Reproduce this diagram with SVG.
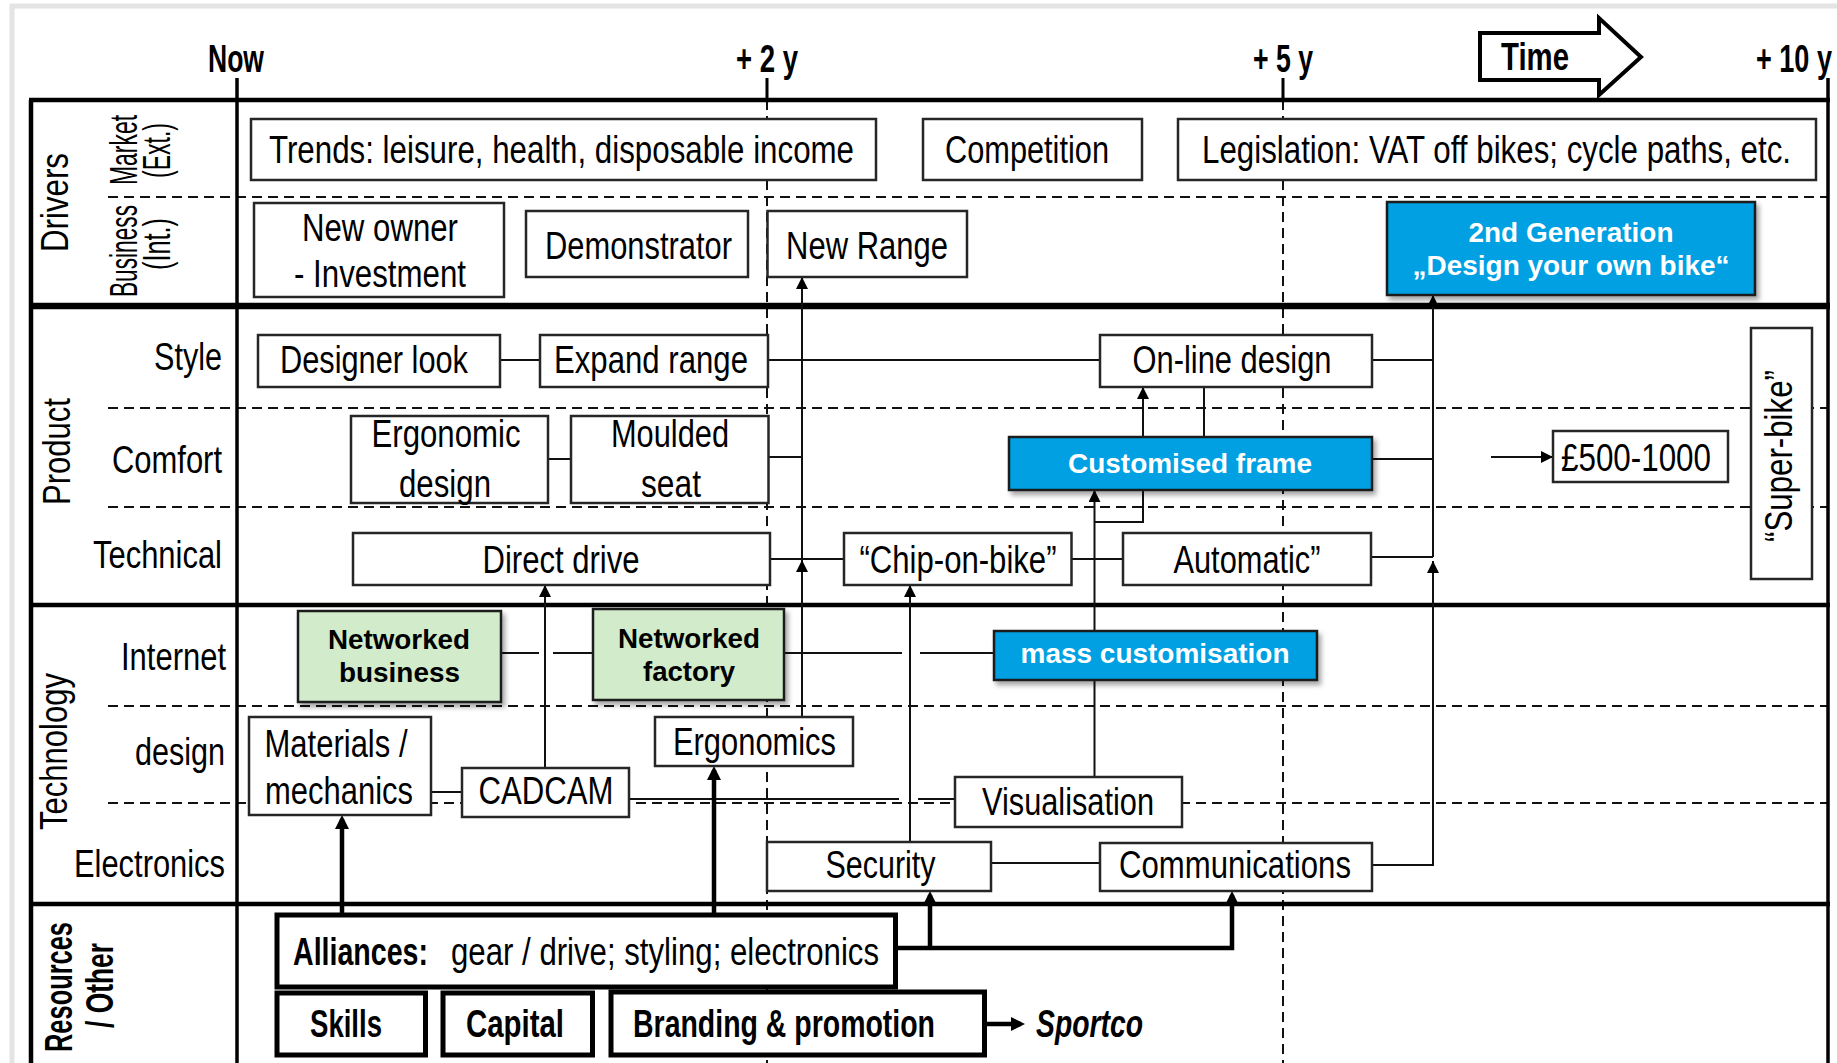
<svg xmlns="http://www.w3.org/2000/svg" width="1837" height="1063" viewBox="0 0 1837 1063">
<style>
.t{font-family:"Liberation Sans Narrow","Liberation Sans",Arial,sans-serif;font-size:38px;fill:#000}
.b{font-weight:bold}
.w{font-family:"Liberation Sans",Arial,sans-serif;font-weight:bold;font-size:28px;fill:#fff}
.k{font-family:"Liberation Sans",Arial,sans-serif;font-weight:bold;font-size:28px;fill:#000}
.box{fill:#fff;stroke:#262626;stroke-width:2.5}
.thick{fill:#fff;stroke:#000;stroke-width:5}
.blue{fill:#00A0E3;stroke:#1a1a1a;stroke-width:2.5;filter:url(#sh)}
.green{fill:#D1EBCB;stroke:#1a1a1a;stroke-width:2.5;filter:url(#sh)}
.c{fill:none;stroke:#111;stroke-width:2}
.ct{fill:none;stroke:#000;stroke-width:4.5}
.sec{stroke:#000;stroke-width:4.5;fill:none}
.dash{stroke:#111;stroke-width:2;stroke-dasharray:10 6;fill:none}
.m{text-anchor:middle}
.e{text-anchor:end}
</style>
<defs>
<filter id="sh" x="-10%" y="-10%" width="130%" height="140%"><feDropShadow dx="3" dy="4" stdDeviation="2.5" flood-color="#000" flood-opacity="0.35"/></filter>
<marker id="a" viewBox="0 0 12 12" refX="12" refY="6" markerWidth="12" markerHeight="12" markerUnits="userSpaceOnUse" orient="auto"><path d="M0,0 L12,6 L0,12 z" fill="#000"/></marker>
<marker id="A" viewBox="0 0 14 14" refX="10" refY="7" markerWidth="14" markerHeight="14" markerUnits="userSpaceOnUse" orient="auto"><path d="M0,0 L14,7 L0,14 z" fill="#000"/></marker>
</defs>
<rect width="1837" height="1063" fill="#fff"/>
<path d="M12,1063 V6 H1837" stroke="#e4e4e4" stroke-width="5" fill="none"/>

<g id="grid">
<path class="dash" d="M108,197 H1828 M108,408 H1828 M108,507 H1828 M108,706 H1828 M108,803 H1828"/>
<path class="dash" d="M767,100 V1063 M1283,100 V1063"/>
<path d="M767,78 V100 M1283,78 V100" stroke="#000" stroke-width="3"/>
<path class="sec" d="M29,100 H1830 M29,605 H1830 M29,904 H1830 M31,100 V1063"/>
<path d="M29,306 H1830" stroke="#000" stroke-width="6.5"/>
<path d="M237,78 V1063" stroke="#000" stroke-width="3.5"/>
<path d="M1828,78 V1063" stroke="#000" stroke-width="3.5"/>
</g>

<g id="timeline">
<text class="t b m" x="236" y="72" font-size="33" textLength="56" lengthAdjust="spacingAndGlyphs">Now</text>
<text class="t b m" x="767" y="72" font-size="33" textLength="62" lengthAdjust="spacingAndGlyphs">+ 2 y</text>
<text class="t b m" x="1283" y="72" font-size="33" textLength="60" lengthAdjust="spacingAndGlyphs">+ 5 y</text>
<text class="t b m" x="1794" y="72" font-size="33" textLength="76" lengthAdjust="spacingAndGlyphs">+ 10 y</text>
<g id="time-arrow">
<polygon points="1480,33 1599,33 1599,18 1641,57 1599,95 1599,80 1480,80" fill="#fff" stroke="#000" stroke-width="4" stroke-linejoin="miter"/>
<text class="t b m" x="1535" y="70" font-size="36" textLength="68" lengthAdjust="spacingAndGlyphs">Time</text>
</g>
</g>

<g id="labels">
<text class="t m" transform="translate(68,202.5) rotate(-90)" textLength="99" lengthAdjust="spacingAndGlyphs">Drivers</text>
<text class="t m" font-size="28" transform="translate(137,150) rotate(-90)" textLength="70" lengthAdjust="spacingAndGlyphs">Market</text>
<text class="t m" font-size="28" transform="translate(170,150.5) rotate(-90)" textLength="55" lengthAdjust="spacingAndGlyphs">(Ext.)</text>
<text class="t m" font-size="28" transform="translate(137,251) rotate(-90)" textLength="92" lengthAdjust="spacingAndGlyphs">Business</text>
<text class="t m" font-size="28" transform="translate(170,244) rotate(-90)" textLength="52" lengthAdjust="spacingAndGlyphs">(Int.)</text>
<text class="t m" transform="translate(70,451.5) rotate(-90)" textLength="107" lengthAdjust="spacingAndGlyphs">Product</text>
<text class="t m" transform="translate(67,751.5) rotate(-90)" textLength="157" lengthAdjust="spacingAndGlyphs">Technology</text>
<text class="t b m" font-size="36" transform="translate(72,987) rotate(-90)" textLength="130" lengthAdjust="spacingAndGlyphs">Resources</text>
<text class="t b m" font-size="36" transform="translate(113,985.5) rotate(-90)" textLength="85" lengthAdjust="spacingAndGlyphs">/ Other</text>
<text class="t e" x="222" y="370" textLength="68" lengthAdjust="spacingAndGlyphs">Style</text>
<text class="t e" x="222" y="473" textLength="110" lengthAdjust="spacingAndGlyphs">Comfort</text>
<text class="t e" x="222" y="568" textLength="129" lengthAdjust="spacingAndGlyphs">Technical</text>
<text class="t e" x="226" y="670" textLength="105" lengthAdjust="spacingAndGlyphs">Internet</text>
<text class="t e" x="225" y="765" textLength="90" lengthAdjust="spacingAndGlyphs">design</text>
<text class="t e" x="225" y="877" textLength="151" lengthAdjust="spacingAndGlyphs">Electronics</text>
</g>

<g id="connectors">
<path class="c" d="M500,360 H540"/>
<path class="c" d="M768,360 H1100"/>
<path class="c" d="M1372,360 H1433"/>
<path class="c" d="M548,459 H571"/>
<path class="c" d="M768,457 H802"/>
<path class="c" d="M802,717 V560" marker-end="url(#a)"/>
<path class="c" d="M802,559 V277" marker-end="url(#a)"/>
<path class="c" d="M770,559 H844"/>
<path class="c" d="M1071,559 H1123"/>
<path class="c" d="M1371,557 H1433"/>
<path class="c" d="M1372,459 H1433"/>
<path class="c" d="M1372,865 H1433 V561" marker-end="url(#a)"/>
<path class="c" d="M1433,557 V295" marker-end="url(#a)"/>
<path class="c" d="M1491,457 H1553" marker-end="url(#a)"/>
<path class="c" d="M1143,437 V387" marker-end="url(#a)"/>
<path class="c" d="M1204,437 V387"/>
<path class="c" d="M1143,490 V522 H1094.5"/>
<path class="c" d="M1094.5,631 V490" marker-end="url(#a)"/>
<path class="c" d="M1094.5,777 V680"/>
<path class="c" d="M910,842 V585" marker-end="url(#a)"/>
<path class="c" d="M545,768 V585" marker-end="url(#a)"/>
<path class="c" d="M501,653 H539 M553,653 H593"/>
<path class="c" d="M784,653 H902 M920,653 H994"/>
<path class="c" d="M431,792 H462"/>
<path class="c" d="M629,799 H899 M918,799 H955"/>
<path class="c" d="M991,863 H1100"/>
<path class="ct" d="M342,915 V819" marker-end="url(#A)"/>
<path class="ct" d="M714,915 V770" marker-end="url(#A)"/>
<path class="ct" d="M895,948 H1232 V895" marker-end="url(#A)"/>
<path class="ct" d="M930,948 V895" marker-end="url(#A)"/>
<path class="ct" d="M985,1024 H1021" marker-end="url(#A)"/>
</g>

<g id="trends"><rect class="box" x="251" y="119" width="625" height="61"/><text class="t m" x="561.5" y="163" textLength="585" lengthAdjust="spacingAndGlyphs">Trends: leisure, health, disposable income</text></g>
<g id="competition"><rect class="box" x="923" y="119" width="219" height="61"/><text class="t m" x="1027" y="163" textLength="164" lengthAdjust="spacingAndGlyphs">Competition</text></g>
<g id="legislation"><rect class="box" x="1178" y="119" width="638" height="61"/><text class="t m" x="1496.5" y="163" textLength="589" lengthAdjust="spacingAndGlyphs">Legislation: VAT off bikes; cycle paths, etc.</text></g>
<g id="new-owner"><rect class="box" x="254" y="203" width="250" height="94"/><text class="t m" x="380" y="241" textLength="156" lengthAdjust="spacingAndGlyphs">New owner</text><text class="t m" x="380" y="287" textLength="172" lengthAdjust="spacingAndGlyphs">- Investment</text></g>
<g id="demonstrator"><rect class="box" x="526" y="211" width="222" height="66"/><text class="t m" x="638.5" y="259" textLength="187" lengthAdjust="spacingAndGlyphs">Demonstrator</text></g>
<g id="new-range"><rect class="box" x="767.5" y="211" width="199.5" height="66"/><text class="t m" x="867" y="259" textLength="162" lengthAdjust="spacingAndGlyphs">New Range</text></g>
<g id="second-gen"><rect class="blue" x="1387" y="202" width="368" height="93"/><text class="w m" x="1571" y="242" textLength="205" lengthAdjust="spacingAndGlyphs">2nd Generation</text><text class="w m" x="1571" y="275" textLength="317" lengthAdjust="spacingAndGlyphs">„Design your own bike“</text></g>

<g id="designer-look"><rect class="box" x="258" y="335" width="242" height="52"/><text class="t m" x="374" y="373" textLength="188" lengthAdjust="spacingAndGlyphs">Designer look</text></g>
<g id="expand-range"><rect class="box" x="540" y="335" width="228" height="52"/><text class="t m" x="651" y="373" textLength="194" lengthAdjust="spacingAndGlyphs">Expand range</text></g>
<g id="online-design"><rect class="box" x="1100" y="335" width="272" height="52"/><text class="t m" x="1232" y="373" textLength="199" lengthAdjust="spacingAndGlyphs">On-line design</text></g>
<g id="ergonomic-design"><rect class="box" x="351" y="416" width="197" height="87"/><text class="t m" x="446" y="447" textLength="149" lengthAdjust="spacingAndGlyphs">Ergonomic</text><text class="t m" x="445" y="497" textLength="92" lengthAdjust="spacingAndGlyphs">design</text></g>
<g id="moulded-seat"><rect class="box" x="571" y="416" width="197.5" height="87"/><text class="t m" x="670" y="447" textLength="118" lengthAdjust="spacingAndGlyphs">Moulded</text><text class="t m" x="671" y="497" textLength="60" lengthAdjust="spacingAndGlyphs">seat</text></g>
<g id="customised-frame"><rect class="blue" x="1009" y="437" width="363" height="53"/><text class="w m" x="1190" y="473" textLength="244" lengthAdjust="spacingAndGlyphs">Customised frame</text></g>
<g id="price"><rect class="box" x="1553" y="431" width="175" height="51"/><text class="t m" x="1636" y="471" textLength="150" lengthAdjust="spacingAndGlyphs">£500-1000</text></g>
<g id="super-bike"><rect class="box" x="1751" y="328" width="61" height="251"/><text class="t m" transform="translate(1792,456) rotate(-90)" textLength="172" lengthAdjust="spacingAndGlyphs">“Super-bike”</text></g>
<g id="direct-drive"><rect class="box" x="353" y="533" width="417" height="52"/><text class="t m" x="561" y="573" textLength="157" lengthAdjust="spacingAndGlyphs">Direct drive</text></g>
<g id="chip-on-bike"><rect class="box" x="844" y="533" width="227.5" height="52"/><text class="t m" x="958" y="573" textLength="197" lengthAdjust="spacingAndGlyphs">“Chip-on-bike”</text></g>
<g id="automatic"><rect class="box" x="1123" y="533" width="248" height="52"/><text class="t m" x="1247" y="573" textLength="147" lengthAdjust="spacingAndGlyphs">Automatic”</text></g>

<g id="networked-business"><rect class="green" x="298" y="611" width="203" height="91"/><text class="k m" x="399" y="649" textLength="142" lengthAdjust="spacingAndGlyphs">Networked</text><text class="k m" x="399.5" y="682" textLength="121" lengthAdjust="spacingAndGlyphs">business</text></g>
<g id="networked-factory"><rect class="green" x="593" y="609" width="191" height="91"/><text class="k m" x="689" y="648" textLength="142" lengthAdjust="spacingAndGlyphs">Networked</text><text class="k m" x="689" y="681" textLength="92" lengthAdjust="spacingAndGlyphs">factory</text></g>
<g id="mass-customisation"><rect class="blue" x="994" y="631" width="323" height="49"/><text class="w m" x="1155" y="663" textLength="269" lengthAdjust="spacingAndGlyphs">mass customisation</text></g>
<g id="materials"><rect class="box" x="249" y="717" width="182" height="98"/><text class="t m" x="336" y="757" textLength="143" lengthAdjust="spacingAndGlyphs">Materials /</text><text class="t m" x="339" y="804" textLength="148" lengthAdjust="spacingAndGlyphs">mechanics</text></g>
<g id="cadcam"><rect class="box" x="462" y="768" width="167" height="49"/><text class="t m" x="546" y="804" textLength="135" lengthAdjust="spacingAndGlyphs">CADCAM</text></g>
<g id="ergonomics"><rect class="box" x="655" y="717" width="198" height="49"/><text class="t m" x="754.5" y="755" textLength="163" lengthAdjust="spacingAndGlyphs">Ergonomics</text></g>
<g id="visualisation"><rect class="box" x="955" y="777" width="227" height="50"/><text class="t m" x="1068" y="815" textLength="172" lengthAdjust="spacingAndGlyphs">Visualisation</text></g>
<g id="security"><rect class="box" x="767" y="842" width="224" height="49"/><text class="t m" x="880.5" y="878" textLength="110" lengthAdjust="spacingAndGlyphs">Security</text></g>
<g id="communications"><rect class="box" x="1100" y="843" width="272" height="48"/><text class="t m" x="1235" y="878" textLength="232" lengthAdjust="spacingAndGlyphs">Communications</text></g>

<g id="alliances"><rect class="thick" x="277" y="915" width="618.5" height="72"/><text class="t b" x="293" y="965" font-size="36" textLength="135" lengthAdjust="spacingAndGlyphs">Alliances:</text><text class="t" x="451" y="965" textLength="428" lengthAdjust="spacingAndGlyphs">gear / drive; styling; electronics</text></g>
<g id="skills"><rect class="thick" x="277" y="993" width="148.5" height="62"/><text class="t b m" x="346" y="1037" font-size="36" textLength="72" lengthAdjust="spacingAndGlyphs">Skills</text></g>
<g id="capital"><rect class="thick" x="443" y="993" width="149.5" height="62"/><text class="t b m" x="515" y="1037" font-size="36" textLength="98" lengthAdjust="spacingAndGlyphs">Capital</text></g>
<g id="branding"><rect class="thick" x="611" y="992" width="373.5" height="63"/><text class="t b m" x="784" y="1037" font-size="36" textLength="302" lengthAdjust="spacingAndGlyphs">Branding &amp; promotion</text></g>
<g id="sportco"><text class="t b" x="1036" y="1037" font-size="36" font-style="italic" textLength="107" lengthAdjust="spacingAndGlyphs">Sportco</text></g>
</svg>
